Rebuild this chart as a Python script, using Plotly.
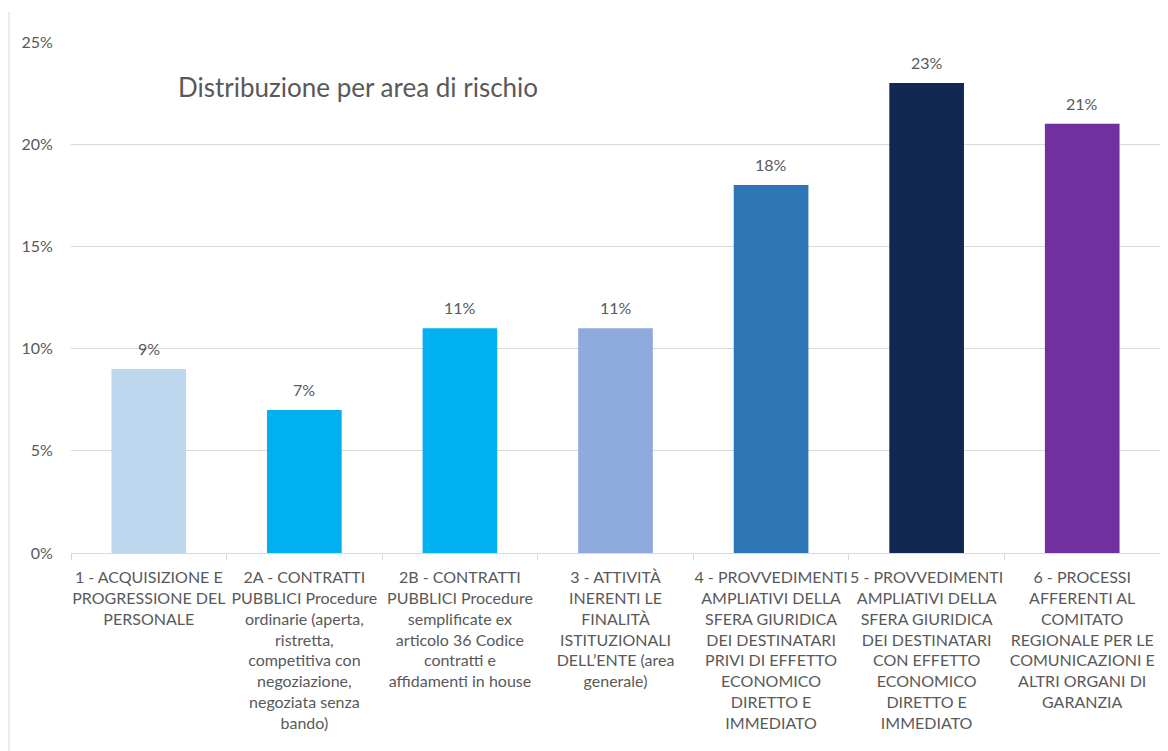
import plotly.graph_objects as go

categories = [
    "1 - ACQUISIZIONE E\nPROGRESSIONE DEL\nPERSONALE",
    "2A - CONTRATTI\nPUBBLICI Procedure\nordinarie (aperta,\nristretta,\ncompetitiva con\nnegoziazione,\nnegoziata senza\nbando)",
    "2B - CONTRATTI\nPUBBLICI Procedure\nsemplificate ex\narticolo 36 Codice\ncontratti e\naffidamenti in house",
    "3 - ATTIVITÀ\nINERENTI LE\nFINALITÀ\nISTITUZIONALI\nDELL’ENTE (area\ngenerale)",
    "4 - PROVVEDIMENTI\nAMPLIATIVI DELLA\nSFERA GIURIDICA\nDEI DESTINATARI\nPRIVI DI EFFETTO\nECONOMICO\nDIRETTO E\nIMMEDIATO",
    "5 - PROVVEDIMENTI\nAMPLIATIVI DELLA\nSFERA GIURIDICA\nDEI DESTINATARI\nCON EFFETTO\nECONOMICO\nDIRETTO E\nIMMEDIATO",
    "6 - PROCESSI\nAFFERENTI AL\nCOMITATO\nREGIONALE PER LE\nCOMUNICAZIONI E\nALTRI ORGANI DI\nGARANZIA",
]
values = [0.09, 0.07, 0.11, 0.11, 0.18, 0.23, 0.21]
bar_colors = ["#BDD7EE", "#00B0F0", "#00B0F0", "#8FAADC", "#2E75B6", "#112952", "#7030A0"]
y_tickvals = [0, 0.05, 0.10, 0.15, 0.20, 0.25]
y_ticktext = ["0%", "5%", "10%", "15%", "20%", "25%"]
title_text = "Distribuzione per area di rischio"

labels = [c.replace("\n", "<br>") for c in categories]
text_color = "#595959"
font_family = "Lato, 'Open Sans', sans-serif"

W, H = 1160, 743   # page body has an 8px margin
L, R, T, B = 63, 8, 34, 198
pw = W - L - R
ph = H - T - B

fig = go.Figure(
    go.Bar(
        x=labels,
        y=values,
        marker=dict(color=bar_colors, line=dict(width=0)),
        hoverinfo="x+y",
    )
)

annotations = [
    dict(
        x=lab, y=v, xref="x", yref="y",
        text=f"{v:.0%}", showarrow=False,
        yanchor="bottom", yshift=9,
        font=dict(size=16, color=text_color, family=font_family),
    )
    for lab, v in zip(labels, values)
]
annotations.append(
    dict(
        text=title_text,
        x=(176 - 8 - L) / pw, y=(545 - (87 - 8)) / ph,
        xref="paper", yref="paper",
        showarrow=False,
        font=dict(size=26, color=text_color, family=font_family),
        xanchor="left", yanchor="middle",
    )
)

fig.update_layout(
    width=W,
    height=H,
    margin=dict(l=L, r=R, t=T, b=B),
    paper_bgcolor="white",
    plot_bgcolor="white",
    bargap=0.52,
    showlegend=False,
    font=dict(family=font_family, size=16, color=text_color),
    annotations=annotations,
)

fig.update_xaxes(
    showgrid=False,
    showline=True,
    linecolor="#D9D9D9",
    linewidth=1,
    ticks="outside",
    tickson="boundaries",
    ticklen=6,
    tickcolor="#D9D9D9",
    tickangle=0,
    ticklabelstandoff=10,
    tickfont=dict(size=16, color=text_color, family=font_family),
)
fig.update_yaxes(
    range=[0, 0.25],
    tickvals=y_tickvals,
    ticktext=y_ticktext,
    showgrid=True,
    gridcolor="#D9D9D9",
    gridwidth=1,
    zeroline=False,
    showline=False,
    ticks="outside",
    ticklen=14,
    tickcolor="rgba(0,0,0,0)",
    tickfont=dict(size=16, color=text_color, family=font_family),
)

# chart-area left border
fig.add_shape(
    type="line", xref="paper", yref="paper",
    x0=(1 - L) / pw, x1=(1 - L) / pw,
    y0=-B / ph, y1=(545 - 4) / ph,
    line=dict(color="#D9D9D9", width=1),
)

fig.write_html("out.html")
